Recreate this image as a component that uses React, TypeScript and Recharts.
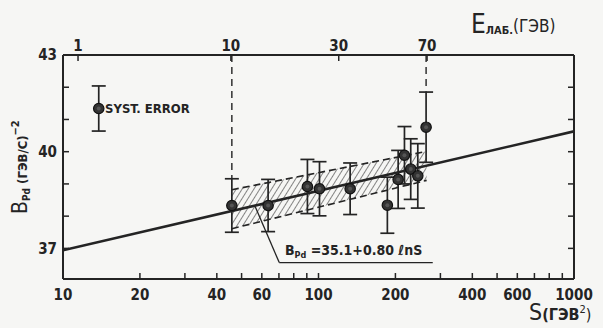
import React from 'react'
import {
  ComposedChart,
  XAxis,
  YAxis,
  Line,
  Area,
  Scatter,
  ErrorBar,
  ReferenceLine,
} from 'recharts'

const W = 603
const H = 328
const INK = '#242424'
const PAPER = '#f6f6f4'
const FONT = '"DejaVu Sans Condensed", "DejaVu Sans", sans-serif'

// measured slopes B_pd vs S (ГэВ²)
const pointS = [45.8, 63.5, 90.5, 100.9, 133, 186, 205, 217, 229.6, 244.7, 263.7]
const pointB = [38.33, 38.33, 38.92, 38.85, 38.85, 38.34, 39.14, 39.89, 39.46, 39.25, 40.76]
const pointErr = [0.83, 0.81, 0.84, 0.84, 0.8, 0.87, 0.9, 0.89, 0.94, 1.0, 1.09]

// systematic error marker
const systS = [13.8]
const systB = [41.34]
const systErr = [0.7]

// fit B = 35.1 + 0.80 ln S, end points
const fitS = [10, 1000]
const fitB = [36.94, 40.63]

// error corridor of the fit
const bandS = [45.8, 265]
const bandLow = [37.61, 39.11]
const bandHigh = [38.82, 40.01]

// axes
const sMajor = [10, 20, 40, 60, 100, 200, 400, 600, 1000]
const sMinor = [30, 50, 70, 80, 90, 300, 500, 700, 800, 900]
const bMajor = [37, 40, 43]
const bAll = [37, 38, 39, 40, 41, 42, 43]
const eLabLabels = ['1', '10', '30', '70']
const eLabS = [11.45, 45.4, 120, 266]

const points = pointS.map((s, i) => ({ s, b: pointB[i], err: pointErr[i] }))
const syst = systS.map((s, i) => ({ s, b: systB[i], err: systErr[i] }))
const fit = fitS.map((s, i) => ({ s, b: fitB[i] }))
const band = bandS.map((s, i) => ({ s, range: [bandLow[i], bandHigh[i]] }))

const tickStyle = { fill: INK, fontSize: 15, fontFamily: FONT, fontWeight: 700 }

const Dot = (props: any) => {
  const { cx, cy } = props
  if (cx == null || cy == null) return null
  return (
    <g>
      <circle cx={cx} cy={cy} r={5.2} fill="#333" stroke="#111" strokeWidth={1.2} />
      <circle cx={cx} cy={cy} r={2} fill="#555" />
    </g>
  )
}

export default function App() {
  return (
    <div style={{ position: 'absolute', left: 0, top: 0, width: W, height: H, background: PAPER }}>
      <ComposedChart
        width={W}
        height={H}
        margin={{ top: 25, right: 9, bottom: 19, left: 33 }}
        style={{ position: 'absolute', left: 0, top: 0 }}
      >
        <defs>
          <pattern
            id="hatch"
            patternUnits="userSpaceOnUse"
            width={5}
            height={5}
            patternTransform="rotate(32)"
          >
            <line x1={0} y1={0} x2={0} y2={5} stroke={INK} strokeWidth={1.1} />
          </pattern>
        </defs>
        <XAxis
          dataKey="s"
          type="number"
          scale="log"
          domain={[10, 1000]}
          allowDataOverflow
          ticks={[...sMajor, ...sMinor].sort((a, b) => a - b)}
          interval={0}
          tickFormatter={(v) => (sMajor.includes(v) ? String(v) : '')}
          height={30}
          tickSize={-6}
          tickMargin={16}
          axisLine={{ stroke: INK, strokeWidth: 2 }}
          tickLine={{ stroke: INK, strokeWidth: 1.5 }}
          tick={tickStyle}
        />
        <XAxis
          xAxisId="top"
          orientation="top"
          dataKey="s"
          type="number"
          scale="log"
          domain={[10, 1000]}
          allowDataOverflow
          ticks={eLabS}
          interval={0}
          tickFormatter={(v) => eLabLabels[eLabS.indexOf(v)] ?? ''}
          height={30}
          tickSize={-6}
          tickMargin={10}
          axisLine={{ stroke: INK, strokeWidth: 2 }}
          tickLine={{ stroke: INK, strokeWidth: 1.5 }}
          tick={tickStyle}
        />
        <YAxis
          type="number"
          domain={[36.05, 43]}
          allowDataOverflow
          ticks={bAll}
          interval={0}
          tickFormatter={(v) => (bMajor.includes(v) ? String(v) : '')}
          width={30}
          tickSize={-6}
          tickMargin={12}
          axisLine={{ stroke: INK, strokeWidth: 2 }}
          tickLine={{ stroke: INK, strokeWidth: 1.5 }}
          tick={tickStyle}
        />
        <YAxis
          yAxisId="right"
          orientation="right"
          type="number"
          domain={[36.05, 43]}
          allowDataOverflow
          ticks={bAll.slice(0, 6)}
          interval={0}
          tickFormatter={() => ''}
          width={20}
          tickSize={-6}
          axisLine={{ stroke: INK, strokeWidth: 2 }}
          tickLine={{ stroke: INK, strokeWidth: 1.5 }}
        />
        <Area
          data={band}
          dataKey="range"
          type="linear"
          stroke={INK}
          strokeWidth={1.6}
          strokeDasharray="7 4"
          fill="url(#hatch)"
          fillOpacity={1}
          isAnimationActive={false}
          activeDot={false}
          dot={false}
        />
        <Line
          data={fit}
          dataKey="b"
          type="linear"
          stroke={INK}
          strokeWidth={2.6}
          dot={false}
          activeDot={false}
          isAnimationActive={false}
        />
        <ReferenceLine
          segment={[{ x: 45.8, y: 43 }, { x: 45.8, y: 39.16 }]}
          stroke={INK}
          strokeWidth={1.4}
          strokeDasharray="7 5"
          ifOverflow="visible"
        />
        <ReferenceLine
          segment={[{ x: 263.7, y: 43 }, { x: 263.7, y: 41.86 }]}
          stroke={INK}
          strokeWidth={1.4}
          strokeDasharray="7 5"
          ifOverflow="visible"
        />
        <ReferenceLine
          segment={[{ x: 56.5, y: 38.3 }, { x: 70.2, y: 36.56 }]}
          stroke={INK}
          strokeWidth={1.3}
          ifOverflow="visible"
        />
        <ReferenceLine
          segment={[{ x: 70.2, y: 36.56 }, { x: 280, y: 36.56 }]}
          stroke={INK}
          strokeWidth={1.3}
          ifOverflow="visible"
        />
        <Scatter data={points} dataKey="b" shape={Dot} isAnimationActive={false}>
          <ErrorBar dataKey="err" direction="y" width={7} stroke={INK} strokeWidth={1.7} />
        </Scatter>
        <Scatter data={syst} dataKey="b" shape={Dot} isAnimationActive={false}>
          <ErrorBar dataKey="err" direction="y" width={7} stroke={INK} strokeWidth={1.7} />
        </Scatter>
      </ComposedChart>

      <svg
        width={W}
        height={H}
        style={{ position: 'absolute', left: 0, top: 0, pointerEvents: 'none' }}
        fontFamily={FONT}
        fontWeight={700}
        fill={INK}
      >
        <text x={105} y={113} fontSize={13}>SYST. ERROR</text>
        <text x={285} y={255} fontSize={14}>
          B<tspan fontSize={9} dy={3}>Pd</tspan>
          <tspan dy={-3}> =35.1+0.80 ℓnS</tspan>
        </text>
        <text x={471} y={33} fontSize={26} fontWeight={400}>
          E<tspan fontSize={11} fontWeight={700} dy={1}>ЛАБ.</tspan>
          <tspan fontSize={17} dy={-2}>(ГЭВ)</tspan>
        </text>
        <text x={529} y={320} fontSize={23} fontWeight={400}>
          S<tspan fontSize={16} fontWeight={700}>(ГЭВ</tspan>
          <tspan fontSize={11} dy={-7}>2</tspan>
          <tspan fontSize={16} dy={7}>)</tspan>
        </text>
      </svg>

      <div
        style={{
          position: 'absolute',
          left: 10,
          top: 214,
          transform: 'rotate(-90deg)',
          transformOrigin: 'left top',
          whiteSpace: 'nowrap',
          fontFamily: FONT,
          color: INK,
          lineHeight: '20px',
          height: 20,
        }}
      >
        <span style={{ fontSize: 21 }}>B</span>
        <span style={{ fontSize: 10, fontWeight: 700, position: 'relative', top: 3 }}>Pd</span>
        <span style={{ fontSize: 13, fontWeight: 700 }}> (ГЭВ/С)</span>
        <span style={{ fontSize: 11, fontWeight: 700, position: 'relative', top: -8 }}>−2</span>
      </div>
    </div>
  )
}
